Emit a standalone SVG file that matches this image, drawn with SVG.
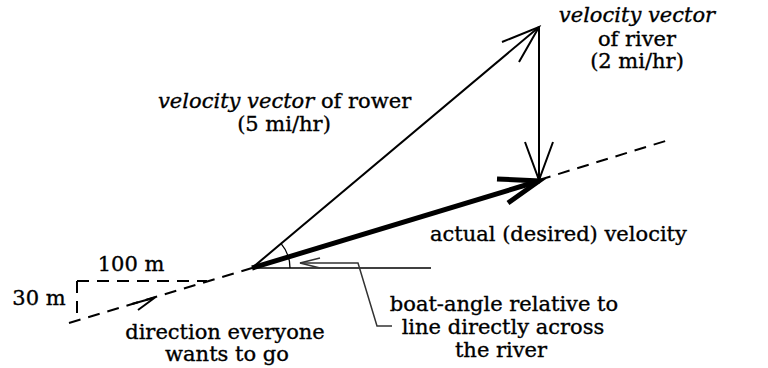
<svg xmlns="http://www.w3.org/2000/svg" width="768" height="368" viewBox="0 0 768 368">
<style>
text{font-family:"DejaVu Serif","Liberation Serif",serif;font-size:21px;fill:#000;stroke:#000;stroke-width:0.35}
.m{text-anchor:middle}
.i{font-style:italic}
.ln{stroke:#000;stroke-width:2;fill:none;stroke-linecap:butt}
.thick{stroke:#000;stroke-width:5;fill:none}
.dash{stroke:#000;stroke-width:2;fill:none;stroke-dasharray:12 8}
.thin{stroke:#000;stroke-width:1.3;fill:none}
.lead{stroke:#333;stroke-width:1.5;fill:none}
</style>
<rect width="768" height="368" fill="#fff"/>
<g id="connectors">
  <path class="dash" d="M69,323 L252,268"/>
  <path class="dash" d="M539,180 L672,139"/>
  <path class="dash" d="M77,281 L207,281"/>
  <path class="dash" d="M77,281 L77,320"/>
  <path class="ln" d="M132,304 L155,297.5 L138,310"/>
  <path class="ln" d="M252,268 L539,27"/>
  <path class="ln" d="M502,42 L539,27 L519,62"/>
  <path class="ln" d="M539,27 L539,180"/>
  <path class="ln" d="M525,142 L539,180 L553,142"/>
  <path class="thick" d="M252,268 L539,181"/>
  <path class="thick" d="M497,179 L539,181 L508,203"/>
  <path class="thin" d="M252,268 L431,268"/>
  <path class="thin" d="M281.1,243.6 A38,38 0 0 1 290,268"/>
  <path class="lead" d="M320,258 L300,263 L320,268"/>
  <path class="lead" d="M300,263 L358,263 L377,326 L392,326"/>
</g>
<g id="rower-label">
  <text x="158" y="108"><tspan class="i">velocity vector</tspan> of rower</text>
  <text class="m" x="284" y="131">(5 mi/hr)</text>
</g>
<g id="river-label">
  <text class="m i" x="637" y="22">velocity vector</text>
  <text class="m" x="637" y="46">of river</text>
  <text class="m" x="637" y="68">(2 mi/hr)</text>
</g>
<g id="actual-label">
  <text x="430" y="241">actual (desired) velocity</text>
</g>
<g id="dist-100">
  <text class="m" x="131" y="271">100 m</text>
</g>
<g id="dist-30">
  <text class="m" x="39" y="305">30 m</text>
</g>
<g id="direction-label">
  <text class="m" x="225" y="339">direction everyone</text>
  <text class="m" x="227" y="361">wants to go</text>
</g>
<g id="angle-label">
  <text class="m" x="504" y="311">boat-angle relative to</text>
  <text class="m" x="503" y="334">line directly across</text>
  <text class="m" x="501" y="357">the river</text>
</g>
</svg>
